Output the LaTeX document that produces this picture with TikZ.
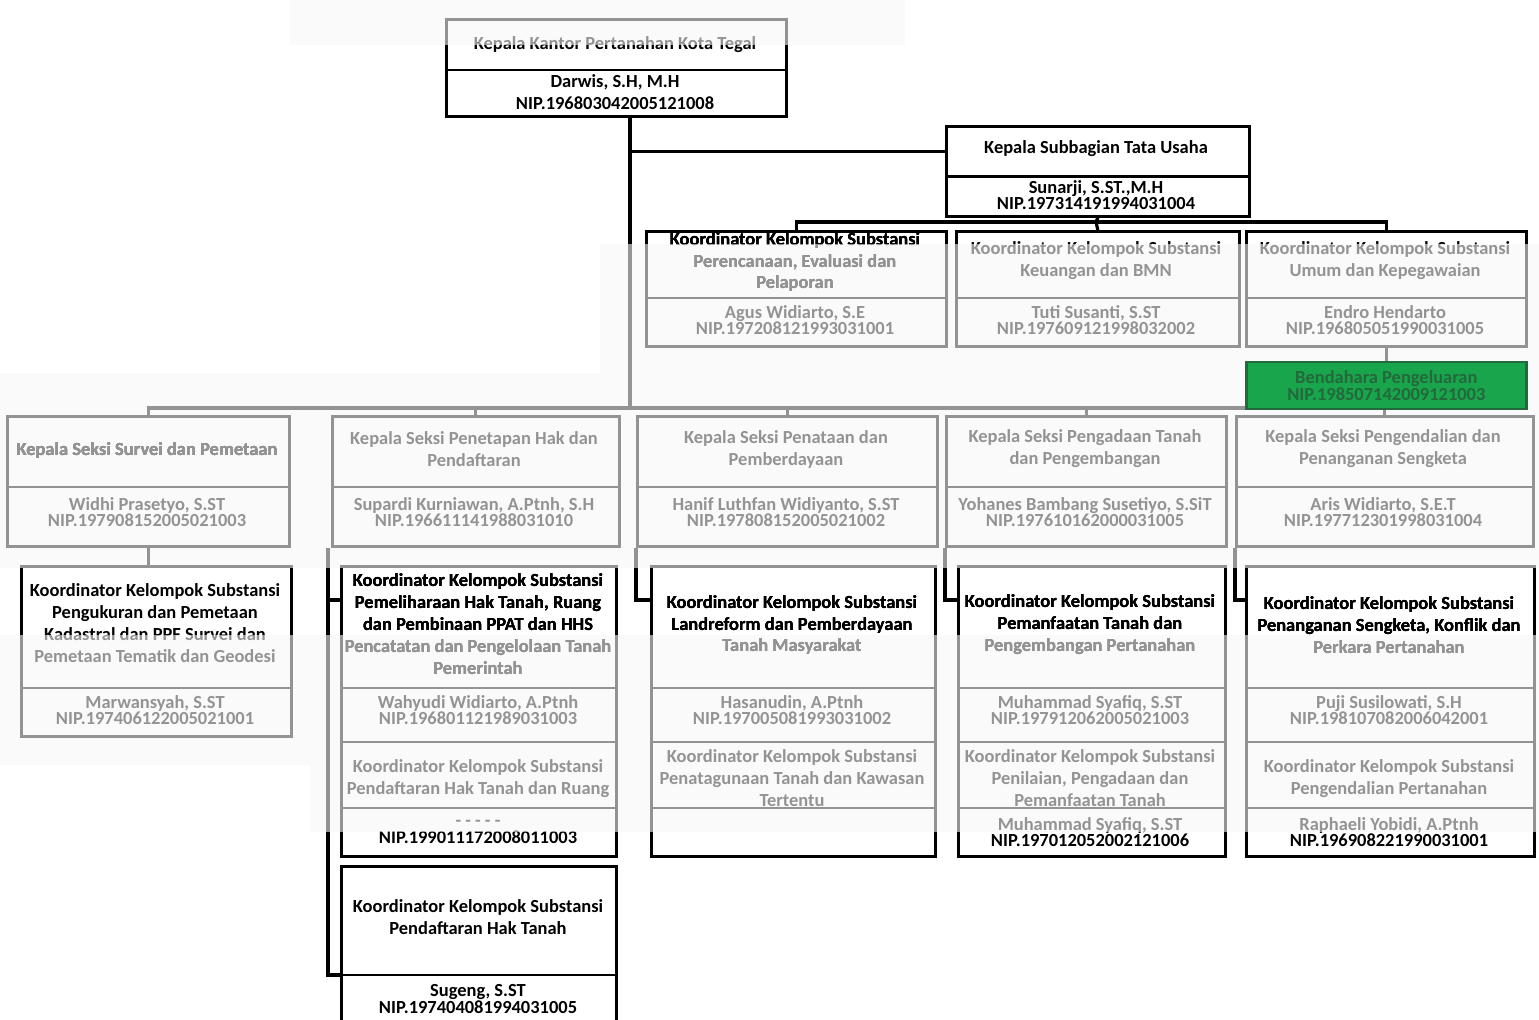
\documentclass[tikz,border=0pt]{standalone}
\usepackage{fontspec}
\setmainfont{Carlito}
\usetikzlibrary{calc}
\usetikzlibrary{positioning}
\definecolor{hijauTua}{RGB}{35,105,60}
\definecolor{hijauMuda}{RGB}{25,165,75}

% kotak dari pojok kiri atas ke pojok kanan bawah (satuan piksel)
\newcommand{\kotak}[5]{%
  \node[kotak, anchor=north west, minimum width={(#4-#2)*0.02cm}, minimum height={(#5-#3)*0.02cm}] (#1) at (#2,#3) {};}
\newcommand{\sekat}[2]{\draw[kotak] (#1.west |- 0,#2) -- (#1.east |- 0,#2);}

\tikzset{
  kotak/.style={draw, line width=1.5pt, inner sep=0pt},
  garis/.style={line width=1.8pt},
  teks/.style={font=\bfseries\fontsize{10.5}{12.5}\selectfont, align=center, inner sep=0pt},
  pudar/.style={fill=gray!7, fill opacity=0.6},
}

\begin{document}
\begin{tikzpicture}[x=0.02cm, y=-0.02cm]
\clip (0,0) rectangle (1539,1019);

% kepala kantor
\kotak{kk}{445}{18}{785}{115}
\sekat{kk}{70}
\node[teks] (kk-jab) at (615,45) {Kepala Kantor Pertanahan Kota Tegal};
\node[teks] (kk-nama) at (615,92) {Darwis, S.H, M.H\\NIP.196803042005121008};

% subbagian tata usaha
\kotak{tu}{945}{125}{1248}{175}
\kotak{tun}{945}{175}{1248}{215}
\node[teks] (tu-jab) at (1096,149) {Kepala Subbagian Tata Usaha};
\node[teks] (tu-nama) at (1096,195) {Sunarji, S.ST.,M.H\\[-3pt]NIP.197314191994031004};

\kotak{b1}{645}{230}{945}{345}
\kotak{b2}{955}{230}{1238}{345}
\kotak{b3}{1245}{230}{1525}{345}
\foreach \b in {b1,b2,b3} \sekat{\b}{298}
\node[teks] (b1-jab) at (795,262) {Koordinator Kelompok Substansi\\Perencanaan, Evaluasi dan\\Pelaporan};
\node[teks] (b1-nama) at (795,320) {Agus Widiarto, S.E\\[-3pt]NIP.197208121993031001};
\node[teks] (b2-jab) at (1096,261) {Koordinator Kelompok Substansi\\Keuangan dan BMN};
\node[teks] (b2-nama) at (1096,320) {Tuti Susanti, S.ST\\[-3pt]NIP.197609121998032002};
\node[teks] (b3-jab) at (1385,261) {Koordinator Kelompok Substansi\\Umum dan Kepegawaian};
\node[teks] (b3-nama) at (1385,320) {Endro Hendarto\\[-3pt]NIP.196805051990031005};

% seksi
\kotak{s1}{6}{415}{288}{545}
\kotak{s2}{331}{415}{618}{545}
\kotak{s3}{636}{415}{936}{545}
\kotak{s4}{945}{415}{1225}{545}
\kotak{s5}{1235}{415}{1532}{545}
\foreach \s in {s1,s2,s3,s4,s5} \sekat{\s}{487}
\node[teks] (s1-jab) at (147,450) {Kepala Seksi Survei dan Pemetaan};
\node[teks] (s1-nama) at (147,512) {Widhi Prasetyo, S.ST\\[-3pt]NIP.197908152005021003};
\node[teks] (s2-jab) at (474,449) {Kepala Seksi Penetapan Hak dan\\Pendaftaran};
\node[teks] (s2-nama) at (474,512) {Supardi Kurniawan, A.Ptnh, S.H\\[-3pt]NIP.196611141988031010};
\node[teks] (s3-jab) at (786,449) {Kepala Seksi Penataan dan\\Pemberdayaan};
\node[teks] (s3-nama) at (786,512) {Hanif Luthfan Widiyanto, S.ST\\[-3pt]NIP.197808152005021002};
\node[teks] (s4-jab) at (1085,449) {Kepala Seksi Pengadaan Tanah\\dan Pengembangan};
\node[teks] (s4-nama) at (1085,512) {Yohanes Bambang Susetiyo, S.SiT\\[-3pt]NIP.197610162000031005};
\node[teks] (s5-jab) at (1383,449) {Kepala Seksi Pengendalian dan\\Penanganan Sengketa};
\node[teks] (s5-nama) at (1383,512) {Aris Widiarto, S.E.T\\[-3pt]NIP.197712301998031004};

% koordinator kelompok substansi
\kotak{k1}{20}{565}{290}{735}
\sekat{k1}{688}
\node[teks] (k1-jab) at (155,623) {Koordinator Kelompok Substansi\\Pengukuran dan Pemetaan\\Kadastral dan PPF Survei dan\\Pemetaan Tematik dan Geodesi};
\node[teks] (k1-nama) at (155,710) {Marwansyah, S.ST\\[-3pt]NIP.197406122005021001};

\kotak{k2}{340}{565}{615}{855}
\foreach \y in {688,742,808} \sekat{k2}{\y}
\node[teks] (k2-jab) at (478,624) {Koordinator Kelompok Substansi\\Pemeliharaan Hak Tanah, Ruang\\dan Pembinaan PPAT dan HHS\\Pencatatan dan Pengelolaan Tanah\\Pemerintah};
\node[teks] (k2-nama) at (478,710) {Wahyudi Widiarto, A.Ptnh\\[-3pt]NIP.196801121989031003};
\node[teks] (k2-jab2) at (478,779) {Koordinator Kelompok Substansi\\Pendaftaran Hak Tanah dan Ruang};
\node[teks] (k2-nama2) at (478,832) {- - - - -\\[-3pt]NIP.199011172008011003};

\kotak{k2b}{340}{865}{615}{1030}
\sekat{k2b}{975}
\node[teks] (k2b-jab) at (478,917) {Koordinator Kelompok Substansi\\Pendaftaran Hak Tanah};
\node[teks] (k2b-nama) at (478,999) {Sugeng, S.ST\\[-3pt]NIP.197404081994031005};

\kotak{k3}{650}{565}{934}{855}
\foreach \y in {688,742,808} \sekat{k3}{\y}
\node[teks] (k3-jab) at (792,625) {Koordinator Kelompok Substansi\\Landreform dan Pemberdayaan\\Tanah Masyarakat};
\node[teks] (k3-nama) at (792,710) {Hasanudin, A.Ptnh\\[-3pt]NIP.197005081993031002};
\node[teks] (k3-jab2) at (792,778) {Koordinator Kelompok Substansi\\Penatagunaan Tanah dan Kawasan\\Tertentu};

\kotak{k4}{957}{565}{1224}{855}
\foreach \y in {688,742,808} \sekat{k4}{\y}
\node[teks] (k4-jab) at (1090,625) {Koordinator Kelompok Substansi\\Pemanfaatan Tanah dan\\Pengembangan Pertanahan};
\node[teks] (k4-nama) at (1090,710) {Muhammad Syafiq, S.ST\\[-3pt]NIP.197912062005021003};
\node[teks] (k4-jab2) at (1090,778) {Koordinator Kelompok Substansi\\Penilaian, Pengadaan dan\\Pemanfaatan Tanah};
\node[teks] (k4-nama2) at (1090,832) {Muhammad Syafiq, S.ST\\[-3pt]NIP.197012052002121006};

\kotak{k5}{1245}{565}{1533}{855}
\foreach \y in {688,742,808} \sekat{k5}{\y}
\node[teks] (k5-jab) at (1389,625) {Koordinator Kelompok Substansi\\Penanganan Sengketa, Konflik dan\\Perkara Pertanahan};
\node[teks] (k5-nama) at (1389,710) {Puji Susilowati, S.H\\[-3pt]NIP.198107082006042001};
\node[teks] (k5-jab2) at (1389,779) {Koordinator Kelompok Substansi\\Pengendalian Pertanahan};
\node[teks] (k5-nama2) at (1389,832) {Raphaeli Yobidi, A.Ptnh\\[-3pt]NIP.196908221990031001};

% garis hubung
\coordinate (jalur) at (630,408);
\coordinate (busTU) at (1096,222);
\draw[garis] (kk.south -| jalur) -- (jalur);
\draw[garis] (jalur |- tu.west) -- (tu.west);
\draw[garis] (tun.south) -- (busTU);
\draw[garis] (b1.north) |- (busTU) -| (b3.north);
\draw[garis] (busTU) -- (b2.north);
\draw[garis] (s1.north) -- (s1.north |- jalur) -- (s5.north |- jalur) -- (s5.north);
\foreach \s in {s2,s3,s4} \draw[garis] (\s.north |- jalur) -- (\s.north);
\draw[garis] (s1.south) -- (s1.south |- k1.north);
\draw[garis] ($(s2.south west)+(-3,0)$) |- ($(k2b.north west)+(0,110)$);
\draw[garis] ($(k2.north west)+(0,35)$) -- ++(-12,0);
\foreach \s/\k in {s3/k3,s4/k4,s5/k5}
  \draw[garis] (\s.south west) |- ($(\k.north west)+(0,35)$);
\draw[garis] (b3.south) -- ++(0,13) coordinate (hijauAtas);

% bagian yang pudar
\fill[pudar] (290,0) rectangle (905,45);
\fill[pudar] (600,244) rectangle (1539,373);
\fill[pudar] (0,373) rectangle (1539,568);
\fill[pudar] (0,635) rectangle (1539,765);
\fill[pudar] (310,765) rectangle (1539,832);

% kotak hijau
\node[kotak, draw=hijauTua, fill=hijauMuda, anchor=north, minimum width={280*0.02cm}, minimum height={47*0.02cm}] (hijau) at (hijauAtas) {};
\node[teks, text=hijauTua] (hijau-jab) at (hijau.center) {Bendahara Pengeluaran\\[-3pt]NIP.198507142009121003};
\end{tikzpicture}
\end{document}
